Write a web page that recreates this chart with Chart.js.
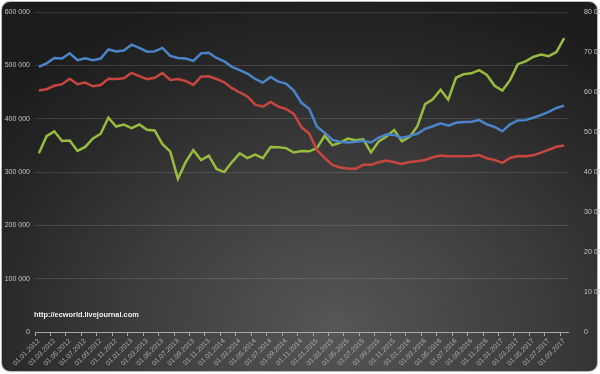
<!DOCTYPE html>
<html>
<head>
<meta charset="utf-8">
<script src="https://cdn.jsdelivr.net/npm/chart.js@4.4.0/dist/chart.umd.min.js"></script>
<style>
  html, body { margin: 0; padding: 0; background: #fff; }
  #wrap {
    position: relative;
    width: 600px;
    height: 374px;
  }
  #bg {
    position: absolute;
    left: 1px; top: 1px;
    width: 595px; height: 369px;
    border: 1px solid #b8b8b8;
    border-radius: 9px;
    background: radial-gradient(ellipse 75% 95% at 56% 88%, #565656 0%, #3d3d3d 45%, #262626 80%, #1c1c1c 100%);
  }
  #chart { position: absolute; left: 0; top: 0; }
  #watermark {
    position: absolute;
    left: 34px; top: 310px;
    font: bold 7.4px "Liberation Sans", "DejaVu Sans", sans-serif;
    color: #eeeeee;
  }
</style>
</head>
<body>
<div id="wrap">
  <div id="bg"></div>
  <canvas id="chart" width="600" height="374"></canvas>
  <div id="watermark">http://ecworld.livejournal.com</div>
</div>
<script>
// monthly categories, 01.01.2012 .. 01.09.2017
const months = [
  '01.01.2012','01.02.2012','01.03.2012','01.04.2012','01.05.2012','01.06.2012',
  '01.07.2012','01.08.2012','01.09.2012','01.10.2012','01.11.2012','01.12.2012',
  '01.01.2013','01.02.2013','01.03.2013','01.04.2013','01.05.2013','01.06.2013',
  '01.07.2013','01.08.2013','01.09.2013','01.10.2013','01.11.2013','01.12.2013',
  '01.01.2014','01.02.2014','01.03.2014','01.04.2014','01.05.2014','01.06.2014',
  '01.07.2014','01.08.2014','01.09.2014','01.10.2014','01.11.2014','01.12.2014',
  '01.01.2015','01.02.2015','01.03.2015','01.04.2015','01.05.2015','01.06.2015',
  '01.07.2015','01.08.2015','01.09.2015','01.10.2015','01.11.2015','01.12.2015',
  '01.01.2016','01.02.2016','01.03.2016','01.04.2016','01.05.2016','01.06.2016',
  '01.07.2016','01.08.2016','01.09.2016','01.10.2016','01.11.2016','01.12.2016',
  '01.01.2017','01.02.2017','01.03.2017','01.04.2017','01.05.2017','01.06.2017',
  '01.07.2017','01.08.2017','01.09.2017'
];

// left axis series (thousands)
const blueK = [
  497.5, 504, 514, 513, 523, 510, 513.5, 510, 513, 530, 526.5, 528,
  539, 533, 526, 526.5, 533, 518, 514, 513, 508.6, 522.8, 524, 514.2,
  508, 497.5, 491.4, 485, 474.7, 468, 478.4, 469.8, 466, 453, 430, 419,
  385, 374, 360.5, 356.8, 355.5, 356.8, 358.6, 355.5, 364.8, 370.4, 369.8, 364.2,
  368, 372, 381, 386, 391.4, 387, 392.6, 393.8, 394.4, 397.5, 389.5, 384.6,
  376.5, 389.5, 396.9, 397.5, 401.9, 406.8, 413, 420.4, 424.7
];
const redK = [
  453, 455.5, 462, 465, 475, 465, 468, 461, 463.5, 475, 474.5, 476,
  486, 480, 474.5, 477, 486, 473, 474.7, 471, 463.6, 479, 479.6, 474.7,
  468.5, 457.4, 449.4, 442, 426.5, 422.8, 431.5, 422.8, 418.5, 409.3, 384, 372.2,
  341.4, 326.5, 313.6, 308.6, 306.8, 306.2, 313.6, 313.6, 318.5, 321.6, 318.5, 315.4,
  319, 320.4, 322.8, 327.8, 330.9, 329.6, 329.6, 329.6, 330.2, 332, 326, 322.8,
  317.3, 326.5, 330.2, 329.6, 331.5, 336.4, 342, 347.5, 350
];
// right axis series (thousands)
const greenK = [
  44.7, 49.0, 50.2, 47.8, 47.9, 45.3, 46.3, 48.4, 49.6, 53.6, 51.4, 51.9,
  51.0, 51.9, 50.6, 50.4, 47.0, 45.2, 38.3, 42.5, 45.5, 43.0, 44.1, 40.8,
  40.0, 42.5, 44.7, 43.5, 44.4, 43.5, 46.3, 46.2, 46.0, 44.9, 45.3, 45.2,
  46.0, 49.1, 46.7, 47.4, 48.4, 48.0, 48.2, 44.9, 47.7, 48.9, 50.5, 47.7,
  48.8, 51.5, 57.0, 58.2, 60.6, 58.1, 63.6, 64.5, 64.7, 65.5, 64.3, 61.6,
  60.4, 63.0, 67.0, 67.7, 68.8, 69.4, 69.0, 70.0, 73.5
];

const leftTicks = [0, 100000, 200000, 300000, 400000, 500000, 600000];
const rightTicks = [0, 10000, 20000, 30000, 40000, 50000, 60000, 70000, 80000];

function spaced(v) {
  return String(v).replace(/\B(?=(\d{3})+(?!\d))/g, ' ');
}

const tickFont = { family: '"Liberation Sans", "DejaVu Sans", sans-serif', size: 7 };

new Chart(document.getElementById('chart'), {
  type: 'line',
  data: {
    labels: months,
    datasets: [
      { data: blueK.map(v => v * 1000), borderColor: '#4a85c9', yAxisID: 'y' },
      { data: redK.map(v => v * 1000), borderColor: '#c9463f', yAxisID: 'y' },
      { data: greenK.map(v => v * 1000), borderColor: '#98bd3e', yAxisID: 'y1' }
    ]
  },
  options: {
    responsive: false,
    animation: false,
    layout: { padding: { top: 4, left: 0, right: 0, bottom: 0 } },
    elements: {
      line: { borderWidth: 2.5, tension: 0 },
      point: { radius: 0 }
    },
    plugins: { legend: { display: false }, tooltip: { enabled: false } },
    scales: {
      x: {
        offset: true,
        grid: {
          offset: true,
          drawOnChartArea: false,
          tickLength: 4,
          color: ctx => (ctx.index % 2 === 0 ? '#a8a8a8' : 'rgba(0,0,0,0)')
        },
        border: { color: '#a8a8a8', width: 1 },
        ticks: {
          autoSkip: false,
          maxRotation: 45,
          minRotation: 45,
          padding: 1,
          color: '#adadad',
          font: tickFont,
          callback: (v, i) => (i % 2 === 0 ? months[i] : '')
        },
        afterFit: s => { s.height = 42; }
      },
      y: {
        position: 'left',
        min: 0,
        max: 600000,
        afterBuildTicks: s => { s.ticks = leftTicks.map(v => ({ value: v })); },
        grid: { color: 'rgba(255,255,255,0.13)', drawTicks: false },
        border: { display: false },
        ticks: { color: '#bcc4cc', font: tickFont, padding: 5, callback: v => spaced(v) },
        afterFit: s => { s.width = 35; }
      },
      y1: {
        position: 'right',
        min: 0,
        max: 80000,
        afterBuildTicks: s => { s.ticks = rightTicks.map(v => ({ value: v })); },
        grid: { display: false },
        border: { display: false },
        ticks: { color: '#bcc4cc', font: tickFont, padding: 8, callback: v => spaced(v) },
        afterFit: s => { s.width = 32; }
      }
    }
  }
});
</script>
</body>
</html>
